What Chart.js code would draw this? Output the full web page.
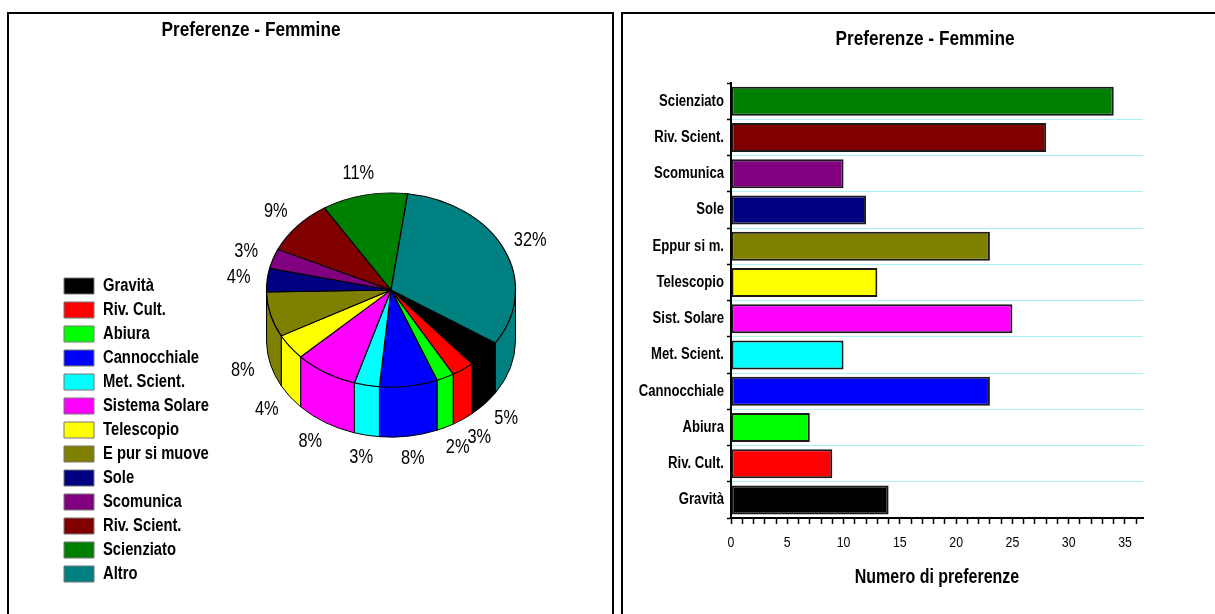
<!DOCTYPE html>
<html lang="it">
<head>
<meta charset="utf-8">
<title>Preferenze - Femmine</title>
<script src="https://cdn.jsdelivr.net/npm/chart.js@4.4.1/dist/chart.umd.min.js"></script>
<style>
  html, body { margin: 0; padding: 0; background: #fff; overflow: hidden; }
  .pannello { position: absolute; top: 12px; border: 2px solid #000; background: #fff; }
  #pannelloTorta { left: 7px; width: 603px; height: 620px; }
  #pannelloBarre { left: 621px; width: 600px; height: 620px; border-right: none; }
  canvas { display: block; }
</style>
</head>
<body>
<div class="pannello" id="pannelloTorta"><canvas id="torta" width="603" height="600"></canvas></div>
<div class="pannello" id="pannelloBarre"><canvas id="barre" width="592" height="600"></canvas></div>
<script>
var titolo = 'Preferenze - Femmine';

// torta: voci della legenda e numero di preferenze
var voci = ['Gravità', 'Riv. Cult.', 'Abiura', 'Cannocchiale', 'Met. Scient.', 'Sistema Solare',
            'Telescopio', 'E pur si muove', 'Sole', 'Scomunica', 'Riv. Scient.', 'Scienziato', 'Altro'];
var preferenze = [14, 9, 7, 23, 10, 25, 13, 23, 12, 10, 28, 34, 98];
var colori = ['#000000', '#FF0000', '#00FF00', '#0000FF', '#00FFFF', '#FF00FF',
              '#FFFF00', '#808000', '#000080', '#800080', '#800000', '#008000', '#008080'];

// barre: dall'alto verso il basso
var vociBarre = ['Scienziato', 'Riv. Scient.', 'Scomunica', 'Sole', 'Eppur si m.', 'Telescopio',
                 'Sist. Solare', 'Met. Scient.', 'Cannocchiale', 'Abiura', 'Riv. Cult.', 'Gravità'];
var valoriBarre = [34, 28, 10, 12, 23, 13, 25, 10, 23, 7, 9, 14];
var coloriBarre = ['#008000', '#800000', '#800080', '#000080', '#808000', '#FFFF00',
                   '#FF00FF', '#00FFFF', '#0000FF', '#00FF00', '#FF0000', '#000000'];

var FONT = "'Liberation Sans', Arial, sans-serif";
Chart.defaults.font.family = FONT;
Chart.defaults.color = '#000';

// testo stretto tipo Arial Narrow: comprimo in orizzontale ogni fillText
function testoStretto(canvas, fattore) {
    var ctx = canvas.getContext('2d');
    var fill = ctx.fillText;
    ctx.fillText = function (t, x, y, w) {
        this.save();
        this.translate(x, y);
        this.scale(fattore, 1);
        fill.call(this, t, 0, 0, w);
        this.restore();
    };
    return canvas;
}

// centro, raggio, inclinazione e spessore della torta "3D"
var TORTA = { cx: 382, cy: 276, r: 124.5, tilt: 0.78, depth: 50 };

var torta3d = {
    id: 'torta3d',
    beforeDatasetsDraw: function (chart) {
        var ctx = chart.ctx;
        var archi = chart.getDatasetMeta(0).data;
        // bordo laterale, solo la metà davanti
        ctx.save();
        ctx.strokeStyle = '#000';
        ctx.lineWidth = 1;
        archi.forEach(function (arco) {
            for (var k = -2; k <= 2; k++) {
                var lo = Math.max(arco.startAngle, k * 2 * Math.PI);
                var hi = Math.min(arco.endAngle, k * 2 * Math.PI + Math.PI);
                if (hi <= lo) continue;
                ctx.beginPath();
                ctx.ellipse(TORTA.cx, TORTA.cy, TORTA.r, TORTA.r * TORTA.tilt, 0, lo, hi);
                ctx.ellipse(TORTA.cx, TORTA.cy + TORTA.depth, TORTA.r, TORTA.r * TORTA.tilt, 0, hi, lo, true);
                ctx.closePath();
                ctx.fillStyle = arco.options.backgroundColor;
                ctx.fill();
                ctx.stroke();
            }
        });
        ctx.restore();
        // la faccia sopra: schiaccio la torta di Chart.js
        var a = archi[0];
        var s = TORTA.r / a.outerRadius;
        ctx.save();
        ctx.translate(TORTA.cx, TORTA.cy);
        ctx.scale(s, s * TORTA.tilt);
        ctx.translate(-a.x, -a.y);
    },
    afterDatasetsDraw: function (chart) {
        var ctx = chart.ctx;
        ctx.restore();
        var dati = chart.data.datasets[0].data;
        var totale = dati.reduce(function (t, v) { return t + v; }, 0);
        ctx.save();
        ctx.font = '20px ' + FONT;
        ctx.fillStyle = '#000';
        ctx.textAlign = 'center';
        ctx.textBaseline = 'middle';
        chart.getDatasetMeta(0).data.forEach(function (arco, i) {
            var m = (arco.startAngle + arco.endAngle) / 2;
            var x = TORTA.cx + TORTA.r * 1.23 * Math.cos(m);
            var y = TORTA.cy + TORTA.r * TORTA.tilt * 1.23 * Math.sin(m);
            if (Math.sin(m) > 0) y += TORTA.depth;
            ctx.fillText(Math.round(dati[i] / totale * 100) + '%', x, y);
        });
        ctx.restore();
    }
};

var etichetteTorta = Chart.overrides.doughnut.plugins.legend.labels.generateLabels;

new Chart(testoStretto(document.getElementById('torta'), 0.82), {
    type: 'pie',
    data: {
        labels: voci,
        datasets: [{
            data: preferenze,
            backgroundColor: colori,
            borderColor: '#000',
            borderWidth: 1,
            clip: false
        }]
    },
    options: {
        responsive: false,
        animation: false,
        rotation: 123,
        layout: { padding: { left: 49, right: 168, top: 0, bottom: 25 } },
        plugins: {
            title: {
                display: true,
                text: titolo,
                color: '#000',
                font: { size: 21, weight: 'bold' },
                padding: { top: 4, bottom: 10 }
            },
            legend: {
                position: 'left',
                align: 'end',
                labels: {
                    boxWidth: 30,
                    boxHeight: 16,
                    padding: 6,
                    color: '#000',
                    font: { size: 18, weight: 'bold' },
                    generateLabels: function (chart) {
                        var items = etichetteTorta(chart);
                        items.forEach(function (it) { it.strokeStyle = '#777'; it.lineWidth = 1; });
                        return items;
                    }
                }
            },
            tooltip: { enabled: false }
        }
    },
    plugins: [torta3d]
});

new Chart(testoStretto(document.getElementById('barre'), 0.82), {
    type: 'bar',
    data: {
        labels: vociBarre,
        datasets: [{
            data: valoriBarre,
            backgroundColor: coloriBarre,
            borderColor: '#1a1a1a',
            borderWidth: 2,
            borderSkipped: false,
            barPercentage: 0.8,
            categoryPercentage: 1
        }]
    },
    options: {
        indexAxis: 'y',
        responsive: false,
        animation: false,
        layout: { padding: { left: 12, right: 0, top: 0, bottom: 0 } },
        plugins: {
            legend: { display: false },
            tooltip: { enabled: false },
            title: {
                display: true,
                text: titolo,
                color: '#000',
                font: { size: 21, weight: 'bold' },
                padding: { top: 13, bottom: 30.8 }
            }
        },
        scales: {
            x: {
                min: 0,
                max: 36.6,
                afterFit: function (s) { s.height = 96; },
                border: { color: '#000', width: 2 },
                grid: { drawOnChartArea: false, tickLength: 6, tickColor: '#000', tickWidth: 1.5 },
                ticks: {
                    stepSize: 1,
                    includeBounds: false,
                    autoSkip: false,
                    maxRotation: 0,
                    padding: 10,
                    color: '#000',
                    font: { size: 15 },
                    callback: function (v) { return v % 5 === 0 ? v : ''; }
                },
                title: {
                    display: true,
                    text: 'Numero di preferenze',
                    color: '#000',
                    font: { size: 19.5, weight: 'bold' },
                    padding: { top: 0, bottom: 25 }
                }
            },
            y: {
                afterFit: function (s) { s.width = 96; },
                border: { color: '#000', width: 2 },
                grid: {
                    offset: true,
                    color: function (c) {
                        return c.index === 0 ? 'rgba(0,0,0,0)' : '#a8f4f4';
                    },
                    tickLength: 4,
                    tickColor: '#000',
                    tickWidth: 1.5
                },
                ticks: {
                    color: '#000',
                    padding: 3,
                    autoSkip: false,
                    font: { size: 16, weight: 'bold' }
                }
            },
            // margine vuoto a destra del grafico
            destra: {
                type: 'linear',
                position: 'right',
                afterFit: function (s) { s.width = 72; },
                grid: { display: false },
                border: { display: false },
                ticks: { display: false }
            }
        }
    }
});
</script>
</body>
</html>
